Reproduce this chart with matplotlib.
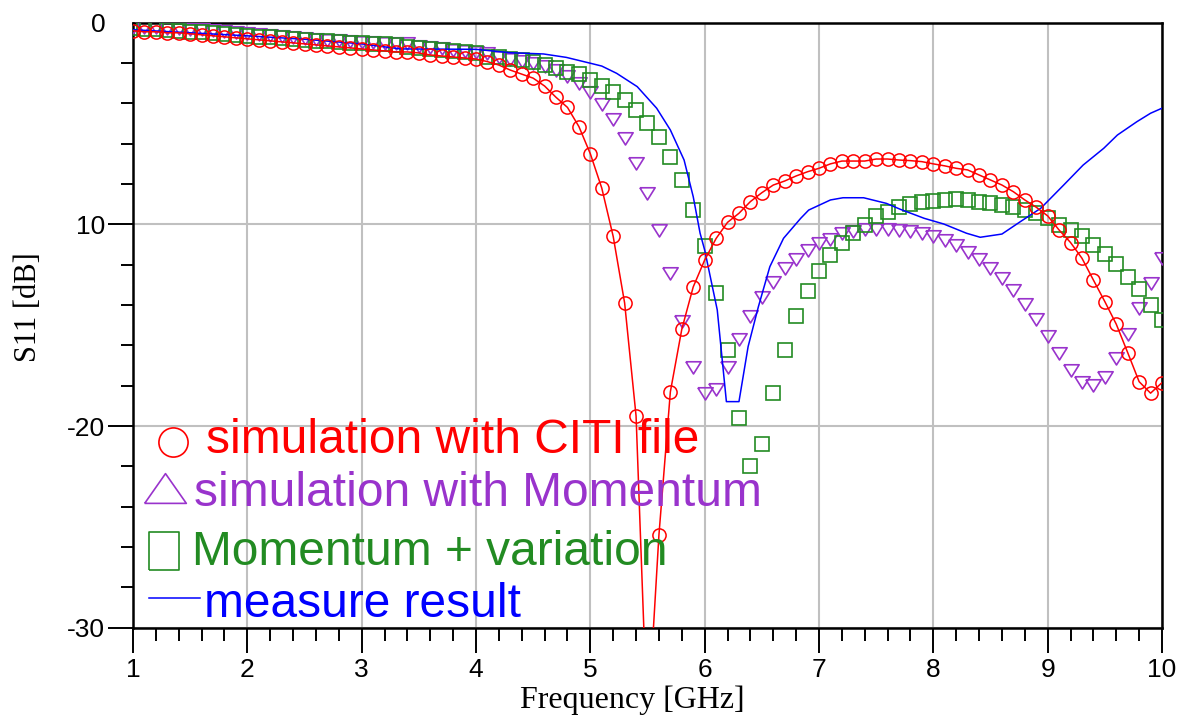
import numpy as np
import matplotlib
matplotlib.use('Agg')
import matplotlib.pyplot as plt
from matplotlib.ticker import MultipleLocator, FixedLocator, FixedFormatter

# frequency grid of the simulated curves (GHz), one point every 0.1 GHz
freq = np.round(np.linspace(1.0, 10.0, 91), 1)

# S11 [dB] simulated with the CITI file
s11_citi = [-0.40, -0.45, -0.45, -0.50, -0.50, -0.55, -0.60, -0.65, -0.70, -0.75,
            -0.80, -0.85, -0.90, -0.95, -1.00, -1.05, -1.10, -1.15, -1.20, -1.25,
            -1.30, -1.35, -1.40, -1.45, -1.45, -1.50, -1.60, -1.65, -1.70, -1.75,
            -1.80, -1.93, -2.10, -2.35, -2.55, -2.75, -3.14, -3.70, -4.20, -5.15,
            -6.50, -8.20, -10.60, -13.90, -19.50, -35.00, -25.40, -18.30, -15.20, -13.10,
            -11.77, -10.70, -9.90, -9.45, -8.87, -8.43, -8.05, -7.85, -7.60, -7.39,
            -7.22, -7.00, -6.86, -6.86, -6.86, -6.76, -6.76, -6.81, -6.84, -6.89,
            -7.00, -7.10, -7.22, -7.30, -7.55, -7.80, -8.05, -8.38, -8.79, -9.15,
            -9.58, -10.28, -10.90, -11.68, -12.76, -13.83, -14.95, -16.36, -17.80, -18.37,
            -17.85]

# S11 [dB] simulated with Momentum
s11_momentum = [-0.20, -0.20, -0.22, -0.25, -0.27, -0.30, -0.33, -0.37, -0.42, -0.46,
                -0.50, -0.55, -0.60, -0.67, -0.72, -0.76, -0.80, -0.84, -0.88, -0.92,
                -0.95, -0.97, -0.99, -1.00, -1.02, -1.16, -1.19, -1.27, -1.35, -1.39,
                -1.44, -1.52, -1.68, -1.82, -1.88, -2.01, -2.15, -2.35, -2.64, -2.97,
                -3.42, -4.03, -4.76, -5.72, -6.94, -8.46, -10.28, -12.40, -14.77, -17.05,
                -18.37, -18.17, -17.05, -15.70, -14.54, -13.58, -12.84, -12.18, -11.73, -11.27,
                -10.94, -10.74, -10.44, -10.31, -10.24, -10.24, -10.24, -10.27, -10.31, -10.44,
                -10.58, -10.77, -11.02, -11.35, -11.73, -12.18, -12.67, -13.25, -13.95, -14.71,
                -15.53, -16.39, -17.22, -17.80, -17.96, -17.55, -16.64, -15.45, -14.16, -12.89,
                -11.68]

# S11 [dB] Momentum + variation
s11_variation = [-0.28, -0.30, -0.33, -0.36, -0.40, -0.44, -0.48, -0.52, -0.57, -0.61,
                 -0.65, -0.69, -0.73, -0.77, -0.81, -0.85, -0.89, -0.93, -0.96, -0.99,
                 -1.02, -1.05, -1.08, -1.12, -1.19, -1.27, -1.32, -1.35, -1.39, -1.44,
                 -1.49, -1.68, -1.72, -1.82, -1.85, -1.93, -2.10, -2.26, -2.43, -2.54,
                 -2.84, -3.14, -3.42, -3.83, -4.33, -4.96, -5.68, -6.64, -7.80, -9.29,
                 -11.05, -13.39, -16.23, -19.61, -22.00, -20.88, -18.34, -16.23, -14.54, -13.29,
                 -12.30, -11.52, -10.91, -10.41, -10.03, -9.60, -9.37, -9.15, -8.99, -8.90,
                 -8.82, -8.77, -8.75, -8.80, -8.88, -8.95, -9.04, -9.12, -9.29, -9.45,
                 -9.70, -10.03, -10.28, -10.58, -11.02, -11.47, -11.96, -12.59, -13.22, -14.00,
                 -14.74]

# measured S11
freq_meas = [1.0, 1.5, 2.0, 2.5, 3.0, 3.34, 4.0, 4.30, 4.59, 4.79, 5.0, 5.10, 5.23,
             5.41, 5.58, 5.70, 5.82, 5.90, 5.96, 6.0, 6.11, 6.19, 6.30, 6.38, 6.47,
             6.57, 6.69, 6.84, 6.91, 7.10, 7.21, 7.39, 7.59, 7.71, 7.92, 8.09, 8.29,
             8.41, 8.60, 8.76, 8.94, 9.14, 9.31, 9.49, 9.61, 9.78, 9.90, 10.0]
s11_meas = [-0.35, -0.50, -0.65, -0.82, -1.05, -1.30, -1.32, -1.49, -1.55, -1.72, -2.01,
            -2.15, -2.51, -3.17, -4.24, -5.32, -6.81, -8.63, -10.44, -11.27, -14.24,
            -18.79, -18.79, -16.06, -14.08, -12.10, -10.69, -9.70, -9.29, -8.79, -8.68,
            -8.68, -8.96, -9.25, -9.70, -9.98, -10.44, -10.64, -10.48, -9.87, -9.20,
            -8.05, -7.06, -6.23, -5.57, -4.91, -4.49, -4.24]

x_ticks = [1, 2, 3, 4, 5, 6, 7, 8, 9, 10]
y_ticks = [-30, -20, -10, 0]
y_ticklabels = ['-30', '-20', '10', '0']

legend_names = ['simulation with CITI file', 'simulation with Momentum',
                'Momentum + variation', 'measure result']

RED = '#FF0000'
PURPLE = '#9933CC'
GREEN = '#228B22'
BLUE = '#0000FF'

plt.rcParams['font.family'] = ['Liberation Sans', 'DejaVu Sans']

fig = plt.figure(figsize=(11.87, 7.19), dpi=100)
ax = fig.add_axes([133 / 1187, 1 - 627.7 / 719, 1029 / 1187, 605 / 719])

tri_down = [(-1, 0.75), (1, 0.75), (0, -0.85), (-1, 0.75)]

ax.plot(freq, s11_momentum, linestyle='none', marker=tri_down, markersize=11,
        markerfacecolor='none', markeredgecolor=PURPLE, markeredgewidth=1.2, zorder=3)
ax.plot(freq, s11_variation, linestyle='none', marker='s', markersize=9.5,
        markerfacecolor='none', markeredgecolor=GREEN, markeredgewidth=1.2, zorder=3)
ax.plot(freq_meas, s11_meas, color=BLUE, linewidth=1.1, zorder=4)
ax.plot(freq, s11_citi, color=RED, linewidth=1.1, marker='o', markersize=9.5,
        markerfacecolor='none', markeredgecolor=RED, markeredgewidth=1.1, zorder=5)

ax.set_xlim(1, 10)
ax.set_ylim(-30, 0)

ax.xaxis.set_major_locator(FixedLocator(x_ticks))
ax.xaxis.set_major_formatter(FixedFormatter([str(v) for v in x_ticks]))
ax.yaxis.set_major_locator(FixedLocator(y_ticks))
ax.yaxis.set_major_formatter(FixedFormatter(y_ticklabels))
ax.xaxis.set_minor_locator(MultipleLocator(0.2))
ax.yaxis.set_minor_locator(MultipleLocator(2))

ax.tick_params(which='major', direction='out', length=18, width=1.4,
               labelsize=19, colors='black')
ax.tick_params(which='minor', direction='out', length=9, width=1.4)
ax.tick_params(axis='x', which='major', pad=4)
ax.tick_params(axis='y', which='major', pad=2)
ax.yaxis.get_major_ticks()[3].tick1line.set_visible(False)

ax.grid(True, which='major', color='#C0C0C0', linewidth=1.5)
ax.set_axisbelow(True)
for sp in ax.spines.values():
    sp.set_linewidth(1.8)
    sp.set_color('black')

# axis titles
fig.text(28 / 1187, 1 - 307 / 719, 'S11 [dB]', rotation=90, ha='center', va='center',
         family='Liberation Serif', fontsize=22)
fig.text(632 / 1187, 1 - 708 / 719, 'Frequency [GHz]', ha='center', va='baseline',
         family='Liberation Serif', fontsize=23)

# hand drawn legend inside the axes
tri_up = [(-1.4, -1), (0, 1), (1.4, -1), (-1.4, -1)]
rect = [(-0.82, -1), (0.82, -1), (0.82, 1), (-0.82, 1), (-0.82, -1)]
ax.plot([0.0389], [0.307], transform=ax.transAxes, clip_on=False, marker='o',
        markersize=21, markerfacecolor='none', markeredgecolor=RED, markeredgewidth=1.2)
ax.plot([0.0311], [0.231], transform=ax.transAxes, clip_on=False, marker=tri_up,
        markersize=30, markerfacecolor='none', markeredgecolor=PURPLE, markeredgewidth=1.2)
ax.plot([0.0301], [0.1268], transform=ax.transAxes, clip_on=False, marker=rect,
        markersize=27, markerfacecolor='none', markeredgecolor=GREEN, markeredgewidth=1.2)
ax.plot([0.0155, 0.0651], [0.0491, 0.0491], transform=ax.transAxes, clip_on=False,
        color=BLUE, linewidth=1.1)

text_x = [0.0705, 0.0590, 0.0570, 0.0690]
text_y = [0.2883, 0.2012, 0.1036, 0.0169]
for name, col, tx, ty in zip(legend_names, [RED, PURPLE, GREEN, BLUE], text_x, text_y):
    ax.text(tx, ty, name, transform=ax.transAxes, color=col, fontsize=34.5,
            ha='left', va='baseline', zorder=6)

fig.savefig('out.png', dpi=100)
